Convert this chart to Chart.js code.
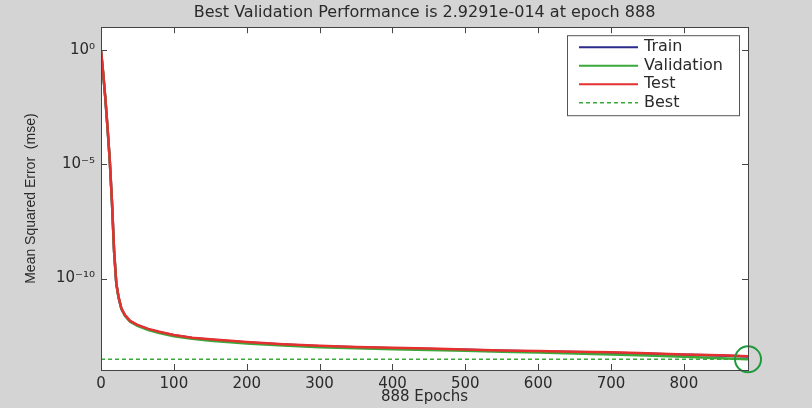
<!DOCTYPE html>
<html>
<head>
<meta charset="utf-8">
<title>Best Validation Performance</title>
<script src="https://cdn.jsdelivr.net/npm/chart.js@4.4.1/dist/chart.umd.min.js"></script>
<style>
    body { margin: 0; background: #d4d4d4; }
    #wrap { width: 812px; height: 408px; }
</style>
</head>
<body>
<div id="wrap"><canvas id="perfChart" width="812" height="408"></canvas></div>
<script>
// values
const epochs = [0, 3, 6, 9, 12, 15, 18, 21, 24, 28, 33, 40, 50, 65, 80, 100, 125, 150, 200, 250, 300, 350, 400, 450, 500, 550, 600, 650, 700, 750, 800, 850, 888];
const trainMse = [0.9, 9e-2, 7.2e-3, 3.6e-4, 1.5e-5, 2.4e-7, 1.5e-9, 6e-11, 1.6e-11, 4.8e-12, 2.4e-12, 1.35e-12, 9.1e-13, 6.0e-13, 4.5e-13, 3.3e-13, 2.5e-13, 2.1e-13, 1.6e-13, 1.3e-13, 1.1e-13, 9.8e-14, 9.0e-14, 8.3e-14, 7.6e-14, 7.0e-14, 6.5e-14, 6.1e-14, 5.7e-14, 5.2e-14, 4.7e-14, 4.3e-14, 3.9e-14];
const validationMse = [1, 1e-1, 7.5e-3, 3.8e-4, 1.5e-5, 2.3e-7, 1.5e-9, 6e-11, 1.5e-11, 4.6e-12, 2.3e-12, 1.3e-12, 8.6e-13, 5.6e-13, 4.1e-13, 3.0e-13, 2.3e-13, 1.9e-13, 1.45e-13, 1.18e-13, 1.0e-13, 9.0e-14, 8.1e-14, 7.5e-14, 6.9e-14, 6.3e-14, 5.8e-14, 5.3e-14, 4.8e-14, 4.3e-14, 3.8e-14, 3.3e-14, 2.9291e-14];
const testMse = [1, 1e-1, 7.9e-3, 4.0e-4, 1.6e-5, 2.5e-7, 1.6e-9, 6.3e-11, 1.6e-11, 5.0e-12, 2.5e-12, 1.4e-12, 9.5e-13, 6.3e-13, 4.7e-13, 3.4e-13, 2.6e-13, 2.2e-13, 1.66e-13, 1.35e-13, 1.15e-13, 1.02e-13, 9.3e-14, 8.7e-14, 7.9e-14, 7.2e-14, 6.8e-14, 6.3e-14, 6.0e-14, 5.4e-14, 4.8e-14, 4.4e-14, 4.0e-14];
const bestEpoch = 888;
const bestMse = 2.9291e-14;

const xTicks = [0, 100, 200, 300, 400, 500, 600, 700, 800];
const yTicks = [1, 1e-5, 1e-10];
const yTickLabels = ['10\u2070', '10\u207B\u2075', '10\u207B\u00B9\u2070'];

const legendItems = [
    { label: 'Train', color: '#2b2b8c', dash: [] },
    { label: 'Validation', color: '#3aa83a', dash: [] },
    { label: 'Test', color: '#e53030', dash: [] },
    { label: 'Best', color: '#3aa83a', dash: [4, 3] }
];

const textColor = '#2a2a2a';
const boxColor = '#444';

function series(values) {
    return epochs.map((e, i) => ({ x: e, y: values[i] }));
}

// gray figure, white axes
const backgroundPlugin = {
    id: 'background',
    beforeDraw(chart) {
        const { ctx, chartArea: a } = chart;
        ctx.save();
        ctx.fillStyle = '#d4d4d4';
        ctx.fillRect(0, 0, chart.width, chart.height);
        ctx.fillStyle = '#ffffff';
        ctx.fillRect(a.left, a.top, a.right - a.left, a.bottom - a.top);
        ctx.restore();
    }
};

// box around the axes with ticks pointing inward, matlab style
const axesBoxPlugin = {
    id: 'axesBox',
    afterDatasetsDraw(chart) {
        const { ctx, chartArea: a, scales } = chart;
        const len = 6;
        ctx.save();
        ctx.strokeStyle = boxColor;
        ctx.lineWidth = 1;
        ctx.beginPath();
        scales.x.ticks.forEach(t => {
            const px = Math.round(scales.x.getPixelForValue(t.value)) + 0.5;
            ctx.moveTo(px, a.bottom); ctx.lineTo(px, a.bottom - len);
            ctx.moveTo(px, a.top); ctx.lineTo(px, a.top + len);
        });
        scales.y.ticks.forEach(t => {
            const py = Math.round(scales.y.getPixelForValue(t.value)) + 0.5;
            ctx.moveTo(a.left, py); ctx.lineTo(a.left + len, py);
            ctx.moveTo(a.right, py); ctx.lineTo(a.right - len, py);
        });
        ctx.stroke();
        ctx.strokeRect(Math.round(a.left) + 0.5, Math.round(a.top) + 0.5,
            Math.round(a.right - a.left), Math.round(a.bottom - a.top));
        ctx.restore();
    }
};

const boxLegendPlugin = {
    id: 'boxLegend',
    afterDraw(chart) {
        const { ctx, chartArea: a } = chart;
        const w = 172, h = 80;
        const left = a.right - 9 - w;
        const top = a.top + 8;
        ctx.save();
        ctx.fillStyle = '#ffffff';
        ctx.fillRect(left, top, w, h);
        ctx.strokeStyle = '#555';
        ctx.lineWidth = 1;
        ctx.strokeRect(left + 0.5, top + 0.5, w, h);
        ctx.font = '16px "DejaVu Sans"';
        ctx.textBaseline = 'middle';
        ctx.fillStyle = textColor;
        legendItems.forEach((item, i) => {
            const y = top + 12 + i * 18.5;
            ctx.strokeStyle = item.color;
            ctx.lineWidth = item.dash.length ? 1.5 : 2;
            ctx.setLineDash(item.dash);
            ctx.beginPath();
            ctx.moveTo(left + 12, y);
            ctx.lineTo(left + 71, y);
            ctx.stroke();
            ctx.setLineDash([]);
            ctx.fillText(item.label, left + 77, y);
        });
        ctx.restore();
    }
};

document.addEventListener('DOMContentLoaded', function() {
    const ctx = document.getElementById('perfChart').getContext('2d');

    // lower order is drawn on top: test over validation over train
    new Chart(ctx, {
        type: 'line',
        data: {
            datasets: [{
                label: 'Train',
                data: series(trainMse),
                borderColor: legendItems[0].color,
                borderWidth: 2.5,
                order: 3
            }, {
                label: 'Validation',
                data: series(validationMse),
                borderColor: legendItems[1].color,
                borderWidth: 2.5,
                order: 2
            }, {
                label: 'Test',
                data: series(testMse),
                borderColor: legendItems[2].color,
                borderWidth: 2.5,
                order: 1
            }, {
                label: 'Best',
                data: [{ x: 0, y: bestMse }, { x: bestEpoch, y: bestMse }],
                borderColor: legendItems[3].color,
                borderWidth: 1.5,
                borderDash: [4, 3],
                order: 4
            }, {
                label: 'Best point',
                data: [{ x: bestEpoch, y: bestMse }],
                showLine: false,
                pointRadius: 13,
                pointBorderWidth: 2,
                pointBorderColor: '#1f9a3a',
                pointBackgroundColor: 'rgba(0,0,0,0)',
                clip: false,
                order: 0
            }]
        },
        options: {
            responsive: false,
            animation: false,
            elements: {
                point: { radius: 0 },
                line: { tension: 0 }
            },
            layout: {
                padding: { left: 0, right: 64, top: 0, bottom: 0 }
            },
            plugins: {
                legend: { display: false },
                tooltip: { enabled: false },
                title: {
                    display: true,
                    fullSize: false,
                    text: 'Best Validation Performance is 2.9291e-014 at epoch 888',
                    color: textColor,
                    font: { family: 'DejaVu Sans', size: 16, weight: 'normal' },
                    padding: { top: 3, bottom: 5 }
                }
            },
            scales: {
                x: {
                    type: 'linear',
                    min: 0,
                    max: bestEpoch,
                    grid: { display: false, drawTicks: false },
                    border: { display: false },
                    afterBuildTicks: function(scale) {
                        scale.ticks = xTicks.map(v => ({ value: v }));
                    },
                    afterFit: function(scale) {
                        scale.height = 38;
                    },
                    ticks: {
                        color: textColor,
                        padding: 5,
                        maxRotation: 0,
                        font: { family: 'DejaVu Sans', size: 15 }
                    },
                    title: {
                        display: true,
                        text: '888 Epochs',
                        color: textColor,
                        font: { family: 'DejaVu Sans', size: 15 },
                        padding: { top: 0, bottom: 2 }
                    }
                },
                y: {
                    type: 'logarithmic',
                    min: 1e-14,
                    max: 10,
                    grid: { display: false, drawTicks: false },
                    border: { display: false },
                    afterBuildTicks: function(scale) {
                        scale.ticks = yTicks.map(v => ({ value: v }));
                    },
                    afterFit: function(scale) {
                        scale.width = 101;
                    },
                    ticks: {
                        color: textColor,
                        padding: 6,
                        font: { family: 'DejaVu Sans', size: 15 },
                        callback: function(value) {
                            const i = yTicks.indexOf(value);
                            return i >= 0 ? yTickLabels[i] : '';
                        }
                    },
                    title: {
                        display: true,
                        text: 'Mean Squared Error  (mse)',
                        color: textColor,
                        font: { family: 'Liberation Sans', size: 14 },
                        padding: { top: 23, bottom: 0 }
                    }
                }
            }
        },
        plugins: [backgroundPlugin, axesBoxPlugin, boxLegendPlugin]
    });
});
</script>
</body>
</html>
